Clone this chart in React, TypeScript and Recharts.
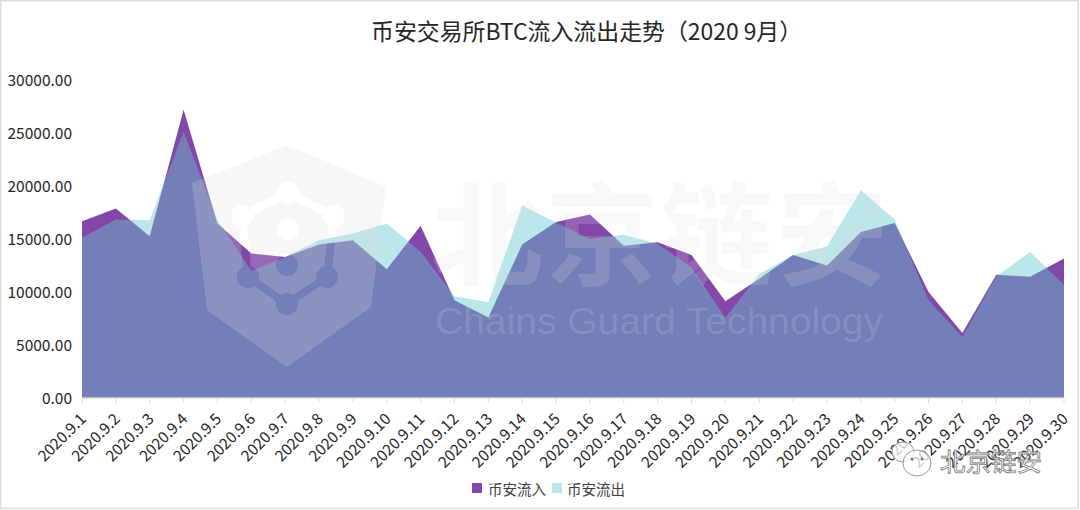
import React from 'react';
import { AreaChart, Area, XAxis, YAxis, Legend } from 'recharts';

const dates = [
  '2020.9.1', '2020.9.2', '2020.9.3', '2020.9.4', '2020.9.5', '2020.9.6', '2020.9.7', '2020.9.8', '2020.9.9', '2020.9.10',
  '2020.9.11', '2020.9.12', '2020.9.13', '2020.9.14', '2020.9.15', '2020.9.16', '2020.9.17', '2020.9.18', '2020.9.19', '2020.9.20',
  '2020.9.21', '2020.9.22', '2020.9.23', '2020.9.24', '2020.9.25', '2020.9.26', '2020.9.27', '2020.9.28', '2020.9.29', '2020.9.30',
];
const inflow = [
  16680, 17880, 15270, 27200, 16460, 13630, 13310, 14480, 14890, 12150,
  16240, 9220, 7590, 14480, 16600, 17300, 14370, 14700, 13500, 9120,
  11260, 13500, 12500, 15650, 16500, 10000, 6130, 11620, 11430, 13150,
];
const outflow = [
  15110, 16840, 16780, 25120, 16800, 12000, 13310, 14890, 15520, 16460,
  13800, 9600, 9030, 18150, 16550, 14990, 15400, 14560, 12300, 7580,
  11670, 13500, 14300, 19600, 16850, 9210, 5750, 11480, 13780, 10690,
];
const yTicks = [0, 5000, 10000, 15000, 20000, 25000, 30000];

const chartData = dates.map((date, i) => ({ date, inflow: inflow[i], outflow: outflow[i] }));

const CJK = '"Noto Sans CJK SC", "Noto Sans", sans-serif';
const PURPLE = '#8347A8';
const CYAN = '#61C8CF';
const CYAN_OPACITY = 0.43;

const DateTick = ({ x, y, payload }: any) => (
  <text
    x={x + 5}
    y={y + 15}
    transform={`rotate(-45 ${x + 5} ${y + 15})`}
    textAnchor="end"
    fontSize={15.5}
    fontFamily={CJK}
    fill="#262626"
  >
    {payload.value}
  </text>
);

const LegendBox = () => (
  <div style={{ height: 30, position: 'relative', fontFamily: CJK, fontSize: 14.5, color: '#404040', lineHeight: '18px' }}>
    <span style={{ position: 'absolute', left: 472, top: 3, width: 10, height: 10, background: PURPLE }} />
    <span style={{ position: 'absolute', left: 488, top: 0 }}>币安流入</span>
    <span style={{ position: 'absolute', left: 552, top: 3, width: 10, height: 10, background: '#BBE7EA' }} />
    <span style={{ position: 'absolute', left: 567, top: 0 }}>币安流出</span>
  </div>
);

// title, the translucent logo stamp and the wechat mark sit above the chart
const Overlay = () => (
  <svg width={1080} height={510} style={{ position: 'absolute', left: 0, top: 0, pointerEvents: 'none' }}>
    <defs>
      <mask id="logoHoles">
        <polygon points="287,145 192,183 207,310 287,367 371,307 386,187" fill="white" />
        <polygon points="288,193 334,216 327,277 287,304 248,277 242,216" fill="none" stroke="black" strokeWidth={8} />
        {[[288, 193], [334, 216], [242, 216], [288, 229], [287, 265], [327, 277], [248, 277], [287, 304]].map(([cx, cy]) => (
          <circle key={`${cx}-${cy}`} cx={cx} cy={cy} r={11} fill="black" />
        ))}
      </mask>
    </defs>
    <text x={371} y={40} fontSize={22.9} fontFamily={CJK} fill="#262626">
      币安交易所BTC流入流出走势（2020<tspan dx={5}>9月）</tspan>
    </text>
    <rect x={180} y={135} width={220} height={240} fill="rgb(220,220,220)" fillOpacity={0.23} mask="url(#logoHoles)" />
    <text x={431} y={277} fontSize={112} fontWeight={700} letterSpacing={3} fontFamily={CJK} fill="rgb(220,220,220)" fillOpacity={0.2}>
      北京链安
    </text>
    <text x={435} y={334} fontSize={36} textLength={448} lengthAdjust="spacingAndGlyphs" fontFamily="Liberation Sans" fill="rgb(220,220,220)" fillOpacity={0.2}>
      Chains Guard Technology
    </text>
    <g fill="white" fillOpacity={0.75} stroke="#9a9a9a" strokeWidth={1}>
      <ellipse cx={903} cy={452} rx={11} ry={10} />
      <ellipse cx={917} cy={463} rx={14} ry={13} />
    </g>
    <circle cx={912} cy={459} r={1.5} fill="#777" />
    <circle cx={922} cy={459} r={1.5} fill="#777" />
    <text x={940} y={471} fontSize={25.5} fontFamily={CJK} fill="white" stroke="#777" strokeWidth={0.8}>
      北京链安
    </text>
    <rect x={0.75} y={0.75} width={1077.5} height={507.5} fill="none" stroke="#DCDCDC" strokeWidth={1.5} />
  </svg>
);

export default function App() {
  return (
    <div style={{ position: 'fixed', left: 0, top: 0, width: 1080, height: 510, background: '#fff' }}>
      <AreaChart width={1080} height={510} data={chartData} margin={{ top: 80, right: 16, bottom: 0, left: 0 }}>
        <XAxis
          dataKey="date"
          interval={0}
          height={82}
          tickSize={5}
          tick={<DateTick />}
          axisLine={{ stroke: '#D9D9D9', strokeWidth: 1.5 }}
          tickLine={{ stroke: '#D9D9D9' }}
        />
        <YAxis
          width={82}
          domain={[0, 30000]}
          ticks={yTicks}
          tickFormatter={(v: number) => v.toFixed(2)}
          axisLine={false}
          tickLine={false}
          tickSize={0}
          tickMargin={10}
          tick={{ fontSize: 15.5, fontFamily: CJK, fill: '#262626' }}
        />
        <Legend content={<LegendBox />} verticalAlign="bottom" height={30} wrapperStyle={{ left: 0, width: 1080 }} />
        <Area type="linear" dataKey="inflow" name="币安流入" stroke="none" fill={PURPLE} fillOpacity={1} dot={false} activeDot={false} isAnimationActive={false} />
        <Area type="linear" dataKey="outflow" name="币安流出" stroke="none" fill={CYAN} fillOpacity={CYAN_OPACITY} dot={false} activeDot={false} isAnimationActive={false} />
      </AreaChart>
      <Overlay />
    </div>
  );
}
